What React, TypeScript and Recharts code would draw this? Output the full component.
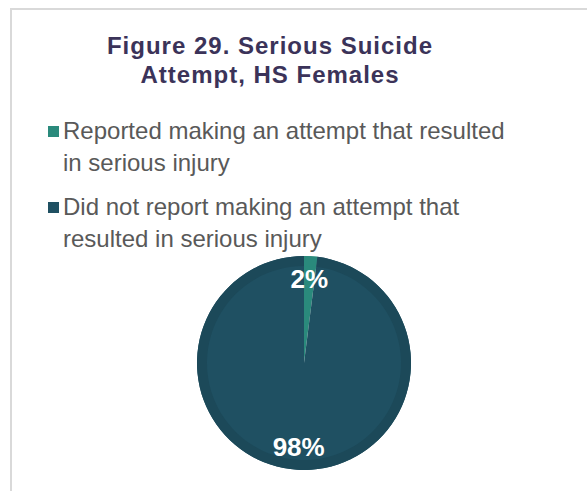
import React from "react";
import { PieChart, Pie, Cell } from "recharts";

const categories = [
  "Reported making an attempt that resulted in serious injury",
  "Did not report making an attempt that resulted in serious injury",
];
const values = [2, 98];
const labels = ["2%", "98%"];
const colors = ["#2a8a7c", "#1f5062"];
const ringColors = ["#2a8a7c", "#1c4959"];

const data = categories.map((name, i) => ({ name, value: values[i], label: labels[i] }));

const RADIAN = Math.PI / 180;

const renderLabel = (props: any) => {
  const { cx, cy, midAngle, outerRadius, index } = props;
  const r = outerRadius * 0.79;
  const x = cx + r * Math.cos(-midAngle * RADIAN);
  const y = cy + r * Math.sin(-midAngle * RADIAN);
  return (
    <text
      x={x}
      y={y}
      fill="#ffffff"
      textAnchor="middle"
      dominantBaseline="central"
      fontFamily="'Liberation Sans', Arial, sans-serif"
      fontWeight="bold"
      fontSize={26}
    >
      {data[index].label}
    </text>
  );
};

export default function App() {
  return (
    <div
      style={{
        position: "fixed",
        left: 0,
        top: 0,
        width: 587,
        height: 491,
        overflow: "hidden",
        background: "#ffffff",
      }}
    >
      <div
        style={{
          position: "absolute",
          left: 10,
          top: 8,
          width: 620,
          height: 520,
          border: "2px solid #d9d9d9",
          boxSizing: "border-box",
        }}
      />
      <div
        style={{
          position: "absolute",
          left: 0,
          top: 31,
          width: 540,
          textAlign: "center",
          fontFamily: "'Liberation Sans', Arial, sans-serif",
          fontWeight: "bold",
          fontSize: 24,
          lineHeight: "29px",
          letterSpacing: 1,
          color: "#3b3359",
        }}
      >
        Figure 29. Serious Suicide
        <br />
        Attempt, HS Females
      </div>
      <div
        style={{
          position: "absolute",
          left: 48,
          top: 115,
          display: "flex",
          flexDirection: "column",
          gap: 12,
        }}
      >
        {categories.map((name, i) => (
          <div key={i} style={{ display: "flex", alignItems: "flex-start" }}>
            <div
              style={{
                width: 11,
                height: 11,
                background: colors[i],
                marginTop: 11,
                marginRight: 4,
                flexShrink: 0,
              }}
            />
            <div
              style={{
                width: 460,
                fontFamily: "'Liberation Sans', Arial, sans-serif",
                fontSize: 24,
                lineHeight: "32px",
                color: "#595959",
              }}
            >
              {name}
            </div>
          </div>
        ))}
      </div>
      <div style={{ position: "absolute", left: 0, top: 0 }}>
        <PieChart width={587} height={491} margin={{ top: 0, right: 0, bottom: 0, left: 0 }}>
          <Pie
            data={data}
            dataKey="value"
            nameKey="name"
            cx={304}
            cy={363}
            outerRadius={107}
            startAngle={90}
            endAngle={-270}
            stroke="none"
            isAnimationActive={false}
            labelLine={false}
            label={renderLabel}
          >
            {data.map((d, i) => (
              <Cell key={i} fill={colors[i]} />
            ))}
          </Pie>
          <Pie
            data={data}
            dataKey="value"
            nameKey="name"
            cx={304}
            cy={363}
            innerRadius={97}
            outerRadius={107}
            startAngle={90}
            endAngle={-270}
            stroke="none"
            isAnimationActive={false}
          >
            {data.map((d, i) => (
              <Cell key={i} fill={ringColors[i]} />
            ))}
          </Pie>
        </PieChart>
      </div>
    </div>
  );
}
